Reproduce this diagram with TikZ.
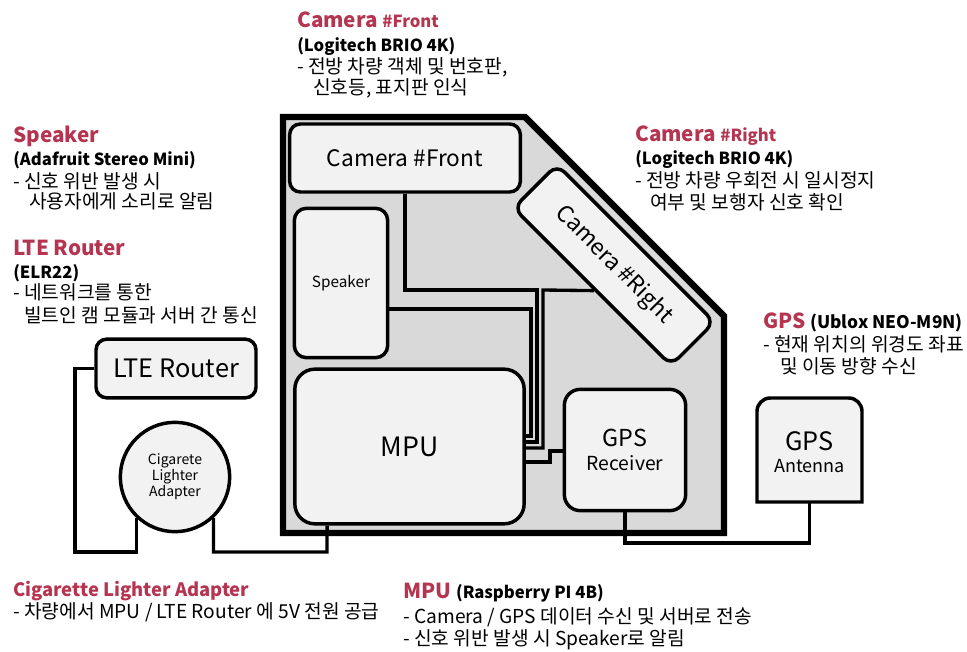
\documentclass[tikz,border=0pt]{standalone}
\usepackage{fontspec}
\setmainfont{Noto Sans CJK KR}
\usetikzlibrary{calc}
\definecolor{hdrred}{RGB}{181,52,80}
\definecolor{carfill}{RGB}{217,217,217}
\definecolor{boxfill}{RGB}{242,242,242}
\tikzstyle{part} = [rectangle, rounded corners=8pt, draw=black, line width=2.6pt, fill=boxfill, inner sep=0pt, align=center]
\tikzstyle{wire} = [line width=2.5pt, draw=black]
\tikzstyle{hdr} = [anchor=base west, inner sep=0pt, text=hdrred, font=\bfseries\fontsize{15.5}{18}\selectfont]
\tikzstyle{sub} = [anchor=base west, inner sep=0pt, font=\bfseries\fontsize{12.5}{15}\selectfont]
\tikzstyle{desc} = [anchor=base west, inner sep=0pt, font=\fontsize{14.4}{17}\selectfont]
\newcommand{\smallhdr}{\fontsize{12.5}{15}\selectfont}

\begin{document}
\begin{tikzpicture}[x=0.75pt, y=-0.75pt]
\useasboundingbox (0,0) rectangle (967,652);

% Vehicle
\draw[line width=4.8pt, fill=carfill] (283,117) -- (525,117) -- (724,316) -- (724,533) -- (283,533) -- cycle;

% Parts inside the vehicle
\node (camF) [part, minimum width=173pt, minimum height=51pt, font=\fontsize{17}{20}\selectfont] at (405,158) {Camera \#Front};
\node (spk) [part, minimum width=70pt, minimum height=112pt, rounded corners=9pt, font=\fontsize{11.5}{14}\selectfont] at (341,283) {Speaker};
\node (mpu) [part, minimum width=172pt, minimum height=116pt, rounded corners=15pt, font=\fontsize{20}{24}\selectfont] at (409.5,446.5) {MPU};
\node (gpsr) [part, minimum width=91pt, minimum height=91pt, rounded corners=12pt] at (625,450) {\fontsize{17.5}{21}\selectfont GPS\\[6pt]\fontsize{14.5}{17}\selectfont Receiver};
\node (camR) [part, minimum width=167pt, minimum height=46pt, rotate=-45, font=\fontsize{17}{20}\selectfont] at (614,265) {Camera \#Right};

% Parts outside
\node (lte) [part, minimum width=120pt, minimum height=44pt, font=\fontsize{19}{22}\selectfont] at (176,368.5) {LTE Router};
\node (cig) [circle, draw=black, line width=2.6pt, fill=boxfill, minimum size=82pt, inner sep=0pt, align=center, font=\fontsize{10.5}{12}\selectfont] at (175,477) {Cigarete\\Lighter\\Adapter};
\filldraw[line width=2.6pt, fill=boxfill] (757,502) [rounded corners=10pt] -- (757,398) -- (862,398) [sharp corners] -- (862,502) -- cycle;
\node (ant) [minimum width=78pt, minimum height=78pt, inner sep=0pt, align=center] at (809.5,452) {\fontsize{19}{22}\selectfont GPS\\[4pt]\fontsize{13.5}{16}\selectfont Antenna};

% Wires
\draw[wire] (spk.east |- 0,309) -| (531,436) -- (mpu.east |- 0,436);
\draw[wire] (camF.south) |- (537,290) |- (mpu.east |- 0,442);
\draw[wire] ($(camR.south west)!0.517!(camR.south east)$) -- (543,290) |- (mpu.east |- 0,448);
\draw[wire] (mpu.east |- 0,462) -| (550,451) -- (gpsr.west |- 0,451);
\draw[wire] (gpsr.south) |- (ant.south |- 0,543) -- (809.5,502);
\draw[wire] (lte.west) -| (75,552) -| (cig.227);
\draw[wire] (cig.-47) |- (327,552) -- ($(mpu.south west)+(34,0)$);

% Descriptions
\node (hdrFront) [hdr] at (297,28) {Camera {\smallhdr\#Front}};
\node (subFront) [sub] at (297,52) {(Logitech BRIO 4K)};
\node (descFront1) [desc] at (297,74) {- 전방 차량 객체 및 번호판,};
\node (descFront2) [desc] at (313,95) {신호등, 표지판 인식};

\node (hdrSpk) [hdr] at (13,143) {Speaker};
\node (subSpk) [sub] at (13,166) {(Adafruit Stereo Mini)};
\node (descSpk1) [desc] at (13,189) {- 신호 위반 발생 시};
\node (descSpk2) [desc] at (29,209) {사용자에게 소리로 알림};

\node (hdrLte) [hdr] at (13,256) {LTE Router};
\node (subLte) [sub] at (13,278) {(ELR22)};
\node (descLte1) [desc] at (13,300) {- 네트워크를 통한};
\node (descLte2) [desc] at (24,322) {빌트인 캠 모듈과 서버 간 통신};

\node (hdrRight) [hdr] at (635,142) {Camera {\smallhdr\#Right}};
\node (subRight) [sub] at (635,165) {(Logitech BRIO 4K)};
\node (descRight1) [desc] at (635,188) {- 전방 차량 우회전 시 일시정지};
\node (descRight2) [desc] at (650,210) {여부 및 보행자 신호 확인};

\node (hdrGps) [hdr] at (763,328) {GPS {\color{black}\fontsize{13}{15}\selectfont(Ublox NEO-M9N)}};
\node (descGps1) [desc] at (763,351) {- 현재 위치의 위경도 좌표};
\node (descGps2) [desc] at (780,373) {및 이동 방향 수신};

\node (hdrCig) [hdr, font=\bfseries\fontsize{13.8}{16}\selectfont] at (13,596) {Cigarette Lighter Adapter};
\node (descCig) [desc] at (13,618) {- 차량에서 MPU / LTE Router 에 5V 전원 공급};

\node (hdrMpu) [hdr] at (403,598) {MPU {\color{black}\smallhdr(Raspberry PI 4B)}};
\node (descMpu1) [desc] at (403,623) {- Camera / GPS 데이터 수신 및 서버로 전송};
\node (descMpu2) [desc] at (403,645) {- 신호 위반 발생 시 Speaker로 알림};
\end{tikzpicture}
\end{document}
